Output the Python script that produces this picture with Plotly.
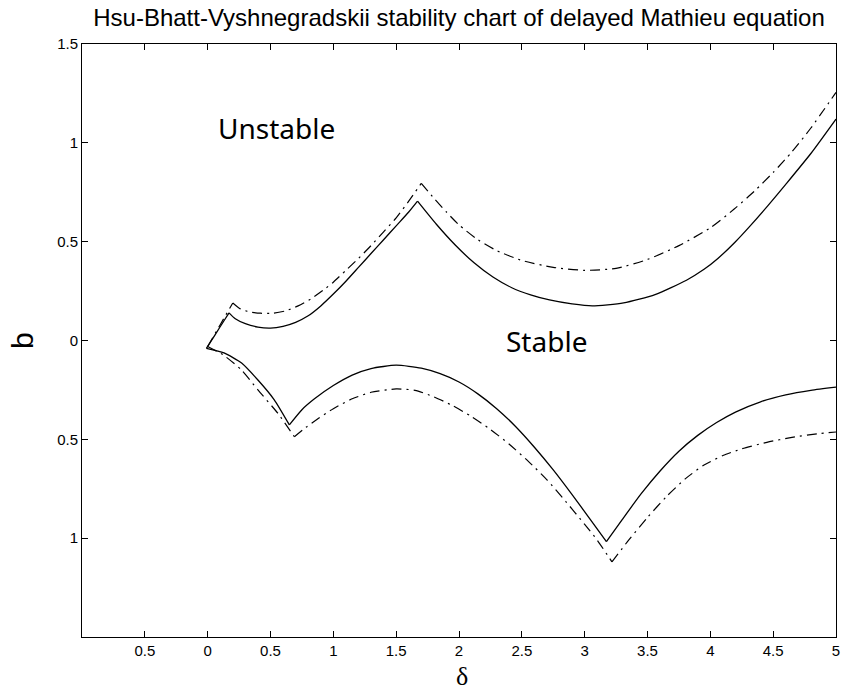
import plotly.graph_objects as go

# ---- data (delta, b) ----
# upper boundary, solid (three arcs between cusps)
su_a_x = [-0.01, 0.06, 0.13, 0.17]
su_a_y = [-0.04, 0.03, 0.10, 0.14]
su_b_x = [0.17, 0.22, 0.30, 0.40, 0.50, 0.60, 0.70, 0.80, 0.90, 1.00, 1.10, 1.20, 1.30, 1.40, 1.50, 1.60, 1.67]
su_b_y = [0.14, 0.11, 0.085, 0.068, 0.063, 0.072, 0.092, 0.125, 0.175, 0.235, 0.30, 0.37, 0.44, 0.51, 0.58, 0.65, 0.705]
su_c_x = [1.67, 1.82, 1.97, 2.12, 2.27, 2.42, 2.57, 2.72, 2.90, 3.06, 3.31, 3.56, 3.81, 3.95, 4.06, 4.20, 4.31, 4.455, 4.60, 4.80, 5.00]
su_c_y = [0.705, 0.588, 0.483, 0.393, 0.321, 0.267, 0.231, 0.205, 0.185, 0.175, 0.19, 0.232, 0.305, 0.36, 0.415, 0.50, 0.575, 0.68, 0.79, 0.946, 1.12]

# upper boundary, dash-dot
du_a_x = [0.00, 0.10, 0.20]
du_a_y = [-0.03, 0.08, 0.19]
du_b_x = [0.20, 0.26, 0.33, 0.42, 0.52, 0.62, 0.72, 0.82, 0.92, 1.00, 1.10, 1.20, 1.30, 1.40, 1.50, 1.60, 1.70]
du_b_y = [0.19, 0.16, 0.145, 0.138, 0.138, 0.15, 0.175, 0.21, 0.255, 0.295, 0.355, 0.415, 0.48, 0.55, 0.62, 0.705, 0.795]
du_c_x = [1.70, 1.80, 1.90, 2.00, 2.15, 2.30, 2.50, 2.75, 3.00, 3.25, 3.50, 3.75, 4.00, 4.19, 4.35, 4.50, 4.65, 4.80, 5.00]
du_c_y = [0.795, 0.72, 0.65, 0.585, 0.51, 0.455, 0.405, 0.37, 0.355, 0.365, 0.41, 0.48, 0.57, 0.665, 0.755, 0.85, 0.955, 1.075, 1.255]

# lower boundary, solid
sl_a_x = [-0.01, 0.13, 0.27, 0.40, 0.53, 0.65]
sl_a_y = [-0.04, -0.063, -0.114, -0.20, -0.30, -0.427]
sl_b_x = [0.65, 0.75, 0.85, 1.00, 1.15, 1.30, 1.50, 1.70, 1.85, 2.00, 2.15, 2.30, 2.45, 2.60, 2.75, 2.90, 3.05, 3.173]
sl_b_y = [-0.427, -0.35, -0.295, -0.228, -0.175, -0.142, -0.125, -0.14, -0.168, -0.21, -0.27, -0.345, -0.435, -0.54, -0.655, -0.78, -0.91, -1.018]
sl_c_x = [3.173, 3.30, 3.45, 3.60, 3.75, 3.90, 4.05, 4.20, 4.40, 4.60, 4.80, 5.00]
sl_c_y = [-1.018, -0.905, -0.775, -0.66, -0.56, -0.48, -0.415, -0.362, -0.31, -0.275, -0.252, -0.236]

# lower boundary, dash-dot
dl_a_x = [0.00, 0.124, 0.269, 0.40, 0.558, 0.69]
dl_a_y = [-0.03, -0.073, -0.149, -0.25, -0.368, -0.487]
dl_b_x = [0.69, 0.78, 0.88, 1.00, 1.15, 1.30, 1.50, 1.65, 1.80, 1.95, 2.10, 2.25, 2.40, 2.55, 2.70, 2.85, 3.00, 3.10, 3.217]
dl_b_y = [-0.487, -0.44, -0.395, -0.345, -0.295, -0.262, -0.245, -0.252, -0.285, -0.33, -0.385, -0.45, -0.525, -0.61, -0.705, -0.815, -0.93, -1.01, -1.12]
dl_c_x = [3.217, 3.35, 3.50, 3.65, 3.80, 3.95, 4.10, 4.25, 4.45, 4.65, 4.85, 5.00]
dl_c_y = [-1.12, -1.01, -0.895, -0.79, -0.70, -0.63, -0.582, -0.548, -0.515, -0.49, -0.472, -0.463]

x_tick_vals = [-1, -0.5, 0, 0.5, 1, 1.5, 2, 2.5, 3, 3.5, 4, 4.5, 5]
x_tick_text = ["", "0.5", "0", "0.5", "1", "1.5", "2", "2.5", "3", "3.5", "4", "4.5", "5"]
y_tick_vals = [-1.5, -1, -0.5, 0, 0.5, 1, 1.5]
y_tick_text = ["", "1", "0.5", "0", "0.5", "1", "1.5"]

region_labels = ["Unstable", "Stable"]
region_x = [0.545, 2.70]
region_y = [1.075, -0.005]

solid_arcs = [(su_a_x, su_a_y), (su_b_x, su_b_y), (su_c_x, su_c_y),
              (sl_a_x, sl_a_y), (sl_b_x, sl_b_y), (sl_c_x, sl_c_y)]
dash_arcs = [(du_a_x, du_a_y), (du_b_x, du_b_y), (du_c_x, du_c_y),
             (dl_a_x, dl_a_y), (dl_b_x, dl_b_y), (dl_c_x, dl_c_y)]

fig = go.Figure()
for xs, ys in dash_arcs:
    fig.add_trace(go.Scatter(x=xs, y=ys, mode="lines",
                             line=dict(color="black", width=1.2, dash="10px,5px,2px,5px",
                                       shape="spline", smoothing=0.6),
                             showlegend=False, hoverinfo="skip"))
for xs, ys in solid_arcs:
    fig.add_trace(go.Scatter(x=xs, y=ys, mode="lines",
                             line=dict(color="black", width=1.3, shape="spline", smoothing=0.6),
                             showlegend=False, hoverinfo="skip"))

for t, xv, yv in zip(region_labels, region_x, region_y):
    fig.add_annotation(x=xv, y=yv, text=t, showarrow=False,
                       font=dict(family="Noto Sans", size=28, color="black"))

axis_common = dict(showline=True, linecolor="black", linewidth=1, mirror="ticks",
                   ticks="inside", ticklen=6, tickcolor="black", tickwidth=1,
                   showgrid=False, zeroline=False,
                   tickfont=dict(family="Liberation Sans", size=15, color="black"))

fig.update_xaxes(range=[-1, 5], tickvals=x_tick_vals, ticktext=x_tick_text, **axis_common)
fig.update_yaxes(range=[-1.5, 1.5], tickvals=y_tick_vals, ticktext=y_tick_text, **axis_common)

fig.add_annotation(xref="paper", yref="paper", x=0.504, y=-0.0925, text="δ", showarrow=False,
                   xanchor="center", yanchor="bottom", borderpad=0,
                   font=dict(family="Liberation Serif", size=26, color="black"))
fig.add_annotation(xref="paper", yref="paper", x=-0.079, y=0.5, text="b", showarrow=False,
                   xanchor="center", yanchor="middle", textangle=-90,
                   font=dict(family="Liberation Sans", size=30, color="black"))

fig.update_layout(
    width=845, height=691,
    margin=dict(l=82, r=5, t=44, b=54),
    paper_bgcolor="white", plot_bgcolor="white",
    title=dict(text="Hsu-Bhatt-Vyshnegradskii stability chart of delayed Mathieu equation",
               x=0.5, xref="paper", xanchor="center", y=1 - 18 / 691, yanchor="middle",
               font=dict(family="Liberation Sans", size=24, color="black")),
)

fig.write_html("out.html")
